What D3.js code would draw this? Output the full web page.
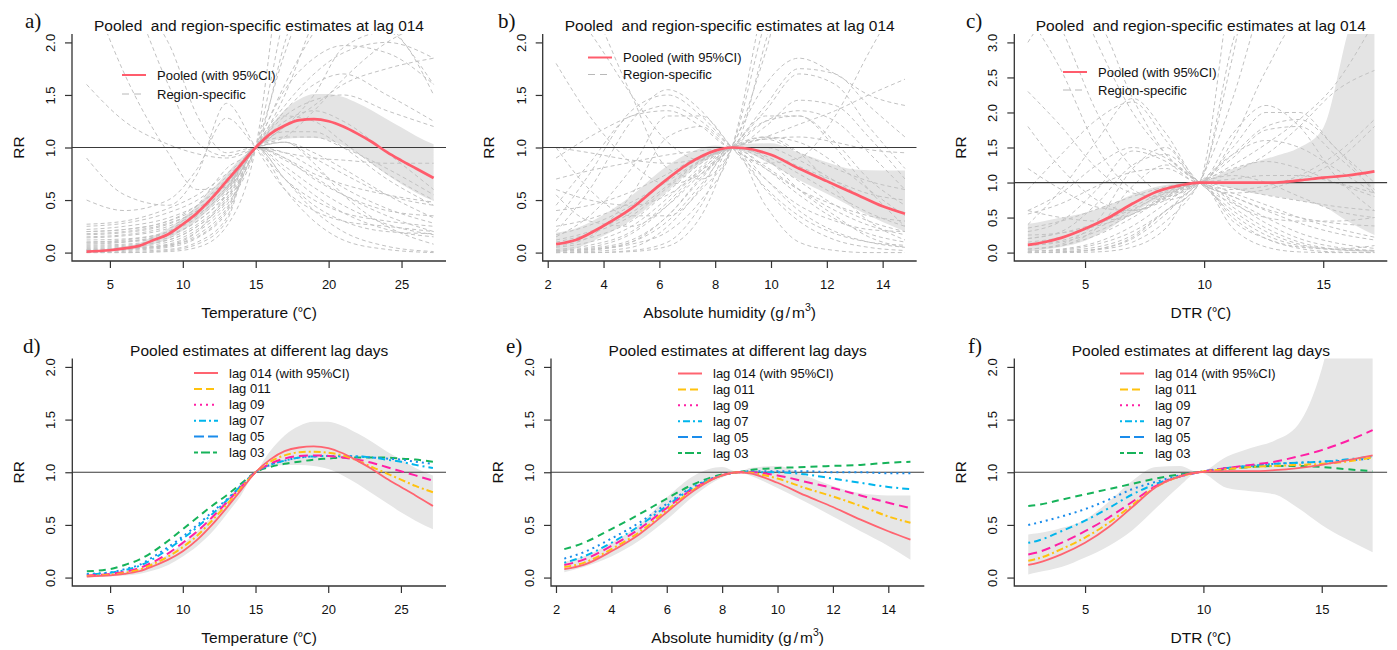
<!DOCTYPE html>
<html>
<head>
<meta charset="utf-8">
<script src="https://cdn.jsdelivr.net/npm/d3@7"></script>
<style>
  body { margin: 0; background: #fff; }
  svg text { font-family: "Liberation Sans", Arial, sans-serif; fill: #111; }
  .title { font-size: 15.5px; white-space: pre; }
  .axtitle { font-size: 15.5px; }
  .tick text { font-size: 13px; }
  .legend text { font-size: 13px; }
  .plabel { font-family: "Liberation Serif", "Times New Roman", serif !important; font-size: 21px; }
</style>
</head>
<body>
<svg id="fig" width="1397" height="650"></svg>
<script>
// ---------------- Temperature ----------------
const tempX = [3.4, 5, 6, 7, 8, 9, 10, 11, 12, 13, 14, 15, 16, 17, 18, 19, 20, 21, 22, 23, 24, 25, 26, 27.2];
const tempPooled = [0.01, 0.022, 0.04, 0.064, 0.12, 0.175, 0.27, 0.38, 0.52, 0.68, 0.84, 1.0, 1.13, 1.21, 1.26, 1.27, 1.25, 1.2, 1.13, 1.05, 0.955, 0.875, 0.8, 0.71];
const tempLow = [0.0, 0.01, 0.02, 0.04, 0.08, 0.13, 0.21, 0.31, 0.44, 0.6, 0.78, 1.0, 1.06, 1.08, 1.09, 1.09, 1.07, 1.02, 0.94, 0.84, 0.74, 0.65, 0.57, 0.49];
const tempHigh = [0.02, 0.04, 0.06, 0.09, 0.16, 0.23, 0.33, 0.45, 0.6, 0.75, 0.9, 1.0, 1.2, 1.36, 1.46, 1.51, 1.51, 1.48, 1.42, 1.35, 1.27, 1.19, 1.11, 1.03];
const tempRegionX = [3.4, 6, 9, 11, 13, 15, 17, 19, 21, 24, 27.2];
const tempRegions = [
  [0.27, 0.3, 0.42, 0.55, 0.75, 1, 1.35, 1.6, 1.7, 1.5, 1.25],
  [0.25, 0.28, 0.38, 0.5, 0.72, 1, 1.25, 1.35, 1.25, 0.95, 0.6],
  [0.22, 0.25, 0.33, 0.45, 0.68, 1, 1.15, 1.15, 1.0, 0.7, 0.45],
  [0.2, 0.22, 0.3, 0.42, 0.65, 1, 1.05, 0.95, 0.8, 0.55, 0.33],
  [0.17, 0.19, 0.27, 0.4, 0.62, 1, 0.95, 0.8, 0.62, 0.42, 0.28],
  [0.14, 0.16, 0.23, 0.36, 0.6, 1, 0.88, 0.72, 0.55, 0.35, 0.2],
  [0.12, 0.13, 0.2, 0.33, 0.58, 1, 0.82, 0.62, 0.45, 0.27, 0.17],
  [0.1, 0.11, 0.17, 0.3, 0.55, 1, 0.78, 0.55, 0.38, 0.22, 0.15],
  [0.07, 0.08, 0.14, 0.27, 0.52, 1, 1.1, 1.1, 1.0, 0.8, 0.55],
  [0.05, 0.06, 0.12, 0.25, 0.5, 1, 1.6, 2.1, 2.5, 2.6, 2.4],
  [0.04, 0.05, 0.1, 0.22, 0.48, 1, 1.9, 2.6, 3, 3, 3],
  [0.03, 0.04, 0.08, 0.2, 0.45, 1, 2.3, 3.5, 4, 4, 4],
  [0.02, 0.03, 0.06, 0.17, 0.42, 1, 1.55, 1.85, 1.97, 1.9, 1.6],
  [0.01, 0.02, 0.05, 0.14, 0.38, 1, 1.4, 1.7, 1.9, 2.0, 1.85],
  [0.0, 0.01, 0.03, 0.1, 0.33, 1, 0.7, 0.4, 0.2, 0.06, 0.01],
  [0.0, 0.0, 0.02, 0.08, 0.3, 1, 0.6, 0.3, 0.12, 0.03, 0.0],
  [1.6, 1.25, 1.03, 0.94, 0.9, 1, 1.2, 1.4, 1.6, 1.75, 1.85],
  [2.6, 1.7, 0.95, 0.6, 0.62, 1, 1.3, 1.45, 1.5, 1.35, 1.2],
  [0.9, 0.55, 0.45, 0.75, 1.42, 1, 0.6, 0.4, 0.3, 0.25, 0.2],
  [0.5, 0.4, 0.5, 0.8, 1.28, 1, 0.7, 0.5, 0.38, 0.3, 0.25],
  [3.2, 2.6, 1.6, 1.05, 0.92, 1, 1.05, 0.9, 0.75, 0.55, 0.45],
  [0.08, 0.1, 0.2, 0.45, 0.8, 1, 2.0, 2.8, 3, 3, 3],
  [0.02, 0.03, 0.07, 0.2, 0.55, 1, 1.3, 1.25, 1.05, 0.75, 0.5],
  [0.15, 0.17, 0.25, 0.38, 0.62, 1, 0.9, 0.75, 0.65, 0.55, 0.48],
  [0.06, 0.07, 0.12, 0.25, 0.5, 1, 1.1, 1.35, 1.65, 2.0, 2.2],
  [2.2, 2.4, 2.0, 1.3, 0.95, 1, 0.9, 0.7, 0.55, 0.4, 0.35],
  [0.0, 0.0, 0.01, 0.05, 0.25, 1, 3.0, 4, 4, 4, 4],
  [0.2, 0.22, 0.3, 0.45, 0.7, 1, 1.2, 1.5, 1.95, 2.1, 1.5],
  [0.1, 0.12, 0.2, 0.35, 0.6, 1, 0.95, 0.9, 0.88, 0.85, 0.85],
  [0.03, 0.04, 0.07, 0.15, 0.4, 1, 1.05, 0.85, 0.55, 0.25, 0.08],
  [0.18, 0.2, 0.28, 0.4, 0.66, 1, 1.5, 2.2, 2.6, 2.2, 1.6],
  [0.09, 0.1, 0.16, 0.3, 0.56, 1, 0.7, 0.45, 0.3, 0.2, 0.18]
];
const tempLagLow = [0.0, 0.01, 0.02, 0.035, 0.07, 0.12, 0.2, 0.3, 0.43, 0.6, 0.78, 1.0, 1.05, 1.07, 1.07, 1.06, 1.03, 0.97, 0.89, 0.8, 0.71, 0.62, 0.54, 0.46];
const tempLagHigh = [0.02, 0.035, 0.055, 0.085, 0.15, 0.22, 0.32, 0.44, 0.58, 0.74, 0.89, 1.0, 1.2, 1.35, 1.44, 1.48, 1.48, 1.44, 1.37, 1.29, 1.2, 1.12, 1.04, 0.97];
const tempLag014 = [0.01, 0.02, 0.035, 0.06, 0.11, 0.17, 0.25, 0.36, 0.5, 0.66, 0.83, 1.0, 1.12, 1.2, 1.235, 1.245, 1.23, 1.18, 1.11, 1.03, 0.94, 0.86, 0.78, 0.68];
const tempLag011 = [0.015, 0.028, 0.045, 0.075, 0.13, 0.2, 0.29, 0.4, 0.54, 0.69, 0.85, 1.0, 1.1, 1.16, 1.19, 1.195, 1.185, 1.16, 1.11, 1.05, 0.99, 0.93, 0.87, 0.81];
const tempLag09 = [0.02, 0.035, 0.055, 0.09, 0.15, 0.23, 0.33, 0.44, 0.57, 0.71, 0.86, 1.0, 1.08, 1.13, 1.155, 1.16, 1.155, 1.14, 1.12, 1.09, 1.05, 1.01, 0.97, 0.92];
const tempLag07 = [0.03, 0.045, 0.07, 0.11, 0.18, 0.27, 0.37, 0.48, 0.6, 0.73, 0.87, 1.0, 1.07, 1.11, 1.14, 1.15, 1.155, 1.15, 1.15, 1.14, 1.12, 1.1, 1.07, 1.04];
const tempLag05 = [0.035, 0.05, 0.08, 0.12, 0.2, 0.29, 0.39, 0.5, 0.62, 0.74, 0.87, 1.0, 1.07, 1.11, 1.14, 1.15, 1.155, 1.155, 1.15, 1.14, 1.13, 1.12, 1.1, 1.08];
const tempLag03 = [0.06, 0.08, 0.12, 0.17, 0.25, 0.35, 0.46, 0.57, 0.68, 0.78, 0.89, 1.0, 1.05, 1.08, 1.1, 1.12, 1.13, 1.14, 1.14, 1.14, 1.14, 1.13, 1.12, 1.1];

// ---------------- Absolute humidity ----------------
const humX = [2.3, 3, 4, 5, 6, 7, 8, 8.6, 9, 10, 11, 12, 13, 14, 14.8];
const humPooled = [0.08, 0.12, 0.255, 0.42, 0.64, 0.84, 0.97, 1.0, 0.995, 0.93, 0.8, 0.68, 0.56, 0.44, 0.37];
const humLow = [0.0, 0.04, 0.16, 0.31, 0.52, 0.75, 0.93, 1.0, 0.97, 0.84, 0.69, 0.56, 0.42, 0.29, 0.2];
const humHigh = [0.19, 0.23, 0.36, 0.54, 0.77, 0.94, 1.02, 1.0, 1.03, 1.04, 0.95, 0.86, 0.79, 0.78, 0.78];
const humRegionX = [2.3, 3.5, 5, 6.3, 7.5, 8.6, 9.8, 11, 12.3, 13.5, 14.8];
const humRegions = [
  [0.0, 0.02, 0.1, 0.35, 0.7, 1, 0.7, 0.4, 0.2, 0.1, 0.05],
  [0.02, 0.05, 0.18, 0.45, 0.78, 1, 0.8, 0.55, 0.32, 0.18, 0.1],
  [0.05, 0.1, 0.25, 0.52, 0.82, 1, 0.88, 0.68, 0.45, 0.3, 0.2],
  [0.08, 0.14, 0.3, 0.58, 0.85, 1, 0.92, 0.75, 0.55, 0.38, 0.25],
  [0.12, 0.2, 0.38, 0.64, 0.88, 1, 1.1, 1.05, 0.85, 0.6, 0.35],
  [0.17, 0.26, 0.45, 0.7, 0.9, 1, 1.25, 1.35, 1.25, 0.95, 0.6],
  [0.2, 0.6, 1.25, 1.55, 1.35, 1, 0.7, 0.45, 0.3, 0.22, 0.2],
  [0.3, 0.75, 1.35, 1.5, 1.3, 1, 0.8, 0.6, 0.45, 0.35, 0.3],
  [0.45, 0.85, 1.3, 1.35, 1.2, 1, 1.2, 1.45, 1.4, 1.1, 0.7],
  [1.8, 1.3, 0.85, 0.65, 0.75, 1, 1.35, 1.7, 1.6, 1.2, 0.8],
  [0.0, 0.0, 0.02, 0.1, 0.45, 1, 0.45, 0.1, 0.02, 0.0, 0.0],
  [0.02, 0.03, 0.08, 0.2, 0.5, 1, 2.5, 4, 4, 4, 4],
  [3, 2.4, 1.5, 0.8, 0.7, 1, 1.9, 3, 3, 3, 3],
  [0.7, 0.78, 0.86, 0.93, 0.97, 1, 1.1, 1.22, 1.35, 1.5, 1.65],
  [1.0, 0.95, 0.88, 0.85, 0.9, 1, 1.08, 1.1, 1.05, 0.98, 0.95],
  [0.6, 0.5, 0.45, 0.55, 0.78, 1, 1.4, 1.75, 1.7, 1.4, 1.1],
  [0.1, 0.18, 0.35, 0.62, 0.87, 1, 0.82, 0.6, 0.4, 0.26, 0.17],
  [0.0, 0.01, 0.05, 0.25, 0.62, 1, 0.6, 0.3, 0.12, 0.05, 0.02],
  [1.0, 0.6, 0.35, 0.35, 0.6, 1, 2.2, 3, 3, 3, 3],
  [0.15, 0.35, 0.8, 1.3, 1.3, 1, 0.62, 0.35, 0.18, 0.1, 0.07],
  [0.03, 0.07, 0.2, 0.48, 0.8, 1, 1.25, 1.3, 1.05, 0.7, 0.45],
  [2.5, 2.1, 1.5, 1.05, 0.88, 1, 1.08, 0.95, 0.8, 0.68, 0.6],
  [0.0, 0.0, 0.01, 0.06, 0.35, 1, 1.6, 1.85, 1.7, 1.5, 1.4],
  [0.25, 0.32, 0.48, 0.68, 0.88, 1, 1.0, 0.88, 0.68, 0.5, 0.38],
  [0.4, 0.45, 0.58, 0.75, 0.92, 1, 0.95, 0.82, 0.68, 0.56, 0.5],
  [0.02, 0.04, 0.12, 0.35, 0.72, 1, 0.9, 0.6, 0.35, 0.15, 0.05],
  [0.9, 1.1, 1.3, 1.4, 1.25, 1, 0.85, 0.9, 1.3, 1.9, 2.5],
  [0.55, 0.3, 0.25, 0.45, 0.75, 1, 1.3, 1.3, 1.0, 0.6, 0.25],
  [0.06, 0.15, 0.55, 1.1, 1.2, 1, 2.0, 3.2, 3, 3, 3],
  [0.01, 0.03, 0.1, 0.3, 0.65, 1, 1.1, 0.95, 0.6, 0.3, 0.12]
];
const humLagLow = [0.05, 0.1, 0.2, 0.35, 0.55, 0.78, 0.95, 1.0, 0.97, 0.85, 0.72, 0.58, 0.44, 0.3, 0.17];
const humLagHigh = [0.15, 0.2, 0.33, 0.5, 0.76, 0.97, 1.05, 1.0, 1.04, 1.06, 0.97, 0.87, 0.8, 0.78, 0.78];
const humLag014 = [0.08, 0.12, 0.25, 0.41, 0.62, 0.83, 0.97, 1.0, 0.99, 0.9, 0.78, 0.67, 0.55, 0.44, 0.36];
const humLag011 = [0.1, 0.14, 0.27, 0.43, 0.64, 0.84, 0.97, 1.0, 0.995, 0.94, 0.85, 0.77, 0.68, 0.58, 0.52];
const humLag09 = [0.12, 0.17, 0.3, 0.46, 0.66, 0.85, 0.97, 1.0, 1.0, 0.97, 0.91, 0.85, 0.78, 0.71, 0.66];
const humLag07 = [0.14, 0.2, 0.33, 0.49, 0.68, 0.86, 0.97, 1.0, 1.0, 1.0, 0.98, 0.94, 0.9, 0.86, 0.84];
const humLag05 = [0.18, 0.24, 0.37, 0.52, 0.7, 0.87, 0.97, 1.0, 1.01, 1.01, 1.01, 1.0, 1.0, 0.99, 0.99];
const humLag03 = [0.27, 0.33, 0.46, 0.6, 0.75, 0.89, 0.98, 1.0, 1.02, 1.04, 1.05, 1.06, 1.07, 1.09, 1.1];

// ---------------- Diurnal temperature range ----------------
const dtrX = [2.6, 3, 4, 5, 6, 7, 8, 9, 9.8, 11, 12, 13, 14, 15, 16, 17.15];
const dtrPooled = [0.11, 0.13, 0.21, 0.34, 0.5, 0.7, 0.87, 0.96, 1.0, 1.0, 1.0, 1.0, 1.03, 1.07, 1.1, 1.16];
const dtrLow = [0.02, 0.03, 0.08, 0.17, 0.34, 0.56, 0.76, 0.92, 1.0, 0.93, 0.85, 0.8, 0.74, 0.66, 0.45, 0.25];
const dtrHigh = [0.41, 0.43, 0.5, 0.57, 0.68, 0.83, 0.94, 0.99, 1.0, 1.17, 1.28, 1.38, 1.5, 1.78, 3.1, 4.5];
const dtrRegionX = [2.6, 4, 5.5, 7, 8.4, 9.8, 11.2, 12.6, 14, 15.5, 17.15];
const dtrRegions = [
  [0.0, 0.01, 0.05, 0.2, 0.55, 1, 0.5, 0.2, 0.06, 0.01, 0.0],
  [0.02, 0.05, 0.15, 0.38, 0.7, 1, 0.65, 0.35, 0.15, 0.05, 0.02],
  [0.05, 0.1, 0.25, 0.5, 0.8, 1, 0.75, 0.5, 0.28, 0.14, 0.06],
  [0.1, 0.17, 0.35, 0.6, 0.86, 1, 0.85, 0.68, 0.5, 0.35, 0.22],
  [0.2, 0.3, 0.7, 1.25, 1.4, 1, 0.8, 0.6, 0.42, 0.28, 0.18],
  [0.3, 0.45, 0.9, 1.45, 1.3, 1, 1.7, 2.1, 1.8, 1.1, 0.6],
  [0.55, 0.7, 0.95, 1.15, 1.2, 1, 1.5, 2.0, 2.0, 1.5, 1.0],
  [2.3, 1.8, 1.2, 0.85, 0.8, 1, 1.4, 1.8, 1.9, 1.5, 0.85],
  [1.8, 1.2, 0.75, 0.6, 0.75, 1, 1.15, 1.4, 1.8, 2.3, 2.6],
  [0.9, 1.4, 1.9, 2.15, 1.6, 1, 0.7, 0.5, 0.45, 0.45, 0.5],
  [0.6, 0.85, 1.25, 1.5, 1.35, 1, 0.9, 0.95, 1.1, 1.4, 1.9],
  [0.02, 0.04, 0.12, 0.3, 0.6, 1, 2.8, 5, 5, 5, 5],
  [0.0, 0.01, 0.04, 0.15, 0.45, 1, 2.2, 3.8, 5, 5, 5],
  [4, 3.2, 2.0, 1.2, 0.85, 1, 1.1, 1.0, 0.8, 0.6, 0.5],
  [0.0, 0.0, 0.01, 0.08, 0.35, 1, 0.35, 0.08, 0.01, 0.0, 0.0],
  [0.2, 0.28, 0.42, 0.62, 0.85, 1, 1.25, 1.55, 1.9, 2.4, 3.3],
  [0.25, 0.28, 0.38, 0.55, 0.8, 1, 0.92, 0.82, 0.74, 0.66, 0.6],
  [0.35, 0.45, 0.62, 0.8, 0.94, 1, 1.05, 1.1, 1.1, 1.0, 0.85],
  [5, 4.2, 3.0, 2.0, 1.4, 1, 0.6, 0.3, 0.12, 0.04, 0.02],
  [0.05, 0.1, 0.35, 0.95, 1.25, 1, 0.55, 0.25, 0.1, 0.05, 0.03],
  [0.15, 0.22, 0.4, 0.65, 0.88, 1, 1.35, 1.75, 1.8, 1.4, 0.9],
  [0.0, 0.01, 0.05, 0.22, 0.6, 1, 4, 6, 6, 6, 6],
  [0.1, 0.15, 0.3, 0.55, 0.82, 1, 0.72, 0.42, 0.2, 0.08, 0.03],
  [3, 3.5, 3.3, 2.2, 1.4, 1, 0.8, 0.62, 0.5, 0.42, 0.38],
  [0.6, 0.5, 0.45, 0.55, 0.78, 1, 1.2, 1.3, 1.2, 1.0, 0.8],
  [1.2, 0.9, 0.65, 0.6, 0.78, 1, 0.45, 0.2, 0.08, 0.05, 0.1],
  [0.02, 0.03, 0.08, 0.25, 0.6, 1, 1.4, 1.6, 1.5, 1.2, 0.85],
  [0.4, 0.9, 1.6, 2.2, 1.7, 1, 0.85, 0.9, 1.05, 1.3, 1.8],
  [3.4, 2.6, 1.5, 0.9, 0.75, 1, 3.0, 4.5, 4, 4, 4],
  [0.05, 0.12, 0.45, 1.2, 1.5, 1, 1.6, 2.6, 3.3, 3.3, 3.3]
];
const dtrLagLow = [0.03, 0.05, 0.1, 0.19, 0.3, 0.45, 0.66, 0.87, 1.0, 0.85, 0.82, 0.79, 0.66, 0.5, 0.37, 0.24];
const dtrLagHigh = [0.41, 0.42, 0.47, 0.55, 0.72, 0.92, 1.05, 1.06, 1.0, 1.15, 1.23, 1.3, 1.45, 1.98, 3.0, 4.0];
const dtrLag014 = [0.12, 0.14, 0.22, 0.33, 0.48, 0.67, 0.86, 0.96, 1.0, 1.01, 1.01, 1.02, 1.04, 1.07, 1.11, 1.16];
const dtrLag011 = [0.16, 0.18, 0.27, 0.38, 0.52, 0.69, 0.86, 0.96, 1.0, 1.03, 1.05, 1.06, 1.07, 1.08, 1.1, 1.14];
const dtrLag09 = [0.22, 0.24, 0.33, 0.44, 0.57, 0.72, 0.87, 0.96, 1.0, 1.04, 1.07, 1.1, 1.15, 1.21, 1.29, 1.4];
const dtrLag07 = [0.33, 0.35, 0.44, 0.54, 0.66, 0.79, 0.89, 0.96, 1.0, 1.04, 1.06, 1.08, 1.09, 1.1, 1.12, 1.15];
const dtrLag05 = [0.5, 0.52, 0.58, 0.65, 0.74, 0.84, 0.91, 0.97, 1.0, 1.04, 1.06, 1.08, 1.09, 1.1, 1.11, 1.13];
const dtrLag03 = [0.68, 0.69, 0.74, 0.79, 0.84, 0.89, 0.94, 0.98, 1.0, 1.03, 1.05, 1.06, 1.06, 1.05, 1.03, 1.01];

// ---------------- Axis ticks and labels ----------------
const tempTicks = [5, 10, 15, 20, 25];
const humTicks = [2, 4, 6, 8, 10, 12, 14];
const dtrTicks = [5, 10, 15];
const rrTicks2 = [0, 0.5, 1, 1.5, 2];
const rrTicks3 = [0, 0.5, 1, 1.5, 2, 2.5, 3];
const lagNames = ["lag 014 (with 95%CI)", "lag 011", "lag 09", "lag 07", "lag 05", "lag 03"];
const lagColors = ["#ff6470", "#ffc20e", "#ff1fa5", "#00b5ec", "#1a8ceb", "#16b35a"];
const topTitle = "Pooled  and region-specific estimates at lag 014";
const bottomTitle = "Pooled estimates at different lag days";

// line styles: [dash in the plot, dash in the legend]
const lagPlotDash = [null, "7,3,2,3", "9,5", "2,4,7,4", "2,4", "7,5"];
const lagLegendDash = [null, "8,4", "2,4", "2,3,7,3", "10,4", "4,3,9,3"];

const svg = d3.select("#fig");

function rr(yv) { return d3.format(".1f")(yv); }

function frame(p) {
  const x = d3.scaleLinear().domain(p.xDomain).range([p.left, p.right]);
  const y = d3.scaleLinear().domain(p.yDomain).range([p.bottom, p.top]);
  const cid = "clip-" + p.id;
  svg.append("clipPath").attr("id", cid).append("rect")
    .attr("x", p.left).attr("y", p.top)
    .attr("width", p.right - p.left).attr("height", p.bottom - p.top);
  const plot = svg.append("g").attr("clip-path", `url(#${cid})`);
  return { x, y, plot };
}

function axes(p, x, y) {
  const gx = svg.append("g").attr("transform", `translate(0,${p.bottom})`)
    .call(d3.axisBottom(x).tickValues(p.xTicks).tickSize(7).tickFormat(d3.format("d")));
  gx.select(".domain").remove();
  gx.selectAll(".tick line").attr("stroke", "#333").attr("stroke-width", 1.2);
  gx.selectAll(".tick text").attr("y", 28).attr("dy", 0).attr("fill", "#111");

  const gy = svg.append("g").attr("transform", `translate(${p.left},0)`)
    .call(d3.axisLeft(y).tickValues(p.yTicks).tickSize(7).tickFormat(rr));
  gy.select(".domain").remove();
  gy.selectAll(".tick line").attr("stroke", "#333").attr("stroke-width", 1.2);
  gy.selectAll(".tick text")
    .attr("transform", "rotate(-90)")
    .attr("x", 0).attr("y", -17).attr("dy", 0)
    .attr("text-anchor", "middle").attr("fill", "#111");

  // L-shaped frame
  svg.append("path")
    .attr("d", `M${p.left},${p.top}V${p.bottom}H${p.right}`)
    .attr("fill", "none").attr("stroke", "#333").attr("stroke-width", 1.3);

  // panel title, axis titles and letter
  svg.append("text").attr("class", "title")
    .attr("x", (p.left + p.right) / 2).attr("y", p.top - 3)
    .attr("text-anchor", "middle").text(p.title);
  const xt = svg.append("text").attr("class", "axtitle")
    .attr("x", (p.left + p.right) / 2).attr("y", p.bottom + 57)
    .attr("text-anchor", "middle");
  if (p.xLabel === "hum") {
    xt.append("tspan").text("Absolute humidity (g");
    xt.append("tspan").attr("dx", 2).text("/");
    xt.append("tspan").attr("dx", 2).text("m");
    xt.append("tspan").attr("dy", -7).attr("font-size", "10.5px").text("3");
    xt.append("tspan").attr("dy", 7).text(")");
  } else {
    xt.append("tspan").text(p.xLabel + " (");
    xt.append("tspan").attr("font-family", "'Noto Sans CJK SC'").attr("font-size", "14px").text("\u2103");
    xt.append("tspan").text(")");
  }
  svg.append("text").attr("class", "axtitle")
    .attr("transform", `translate(${p.left - 48.5},${(p.top + p.bottom) / 2}) rotate(-90)`)
    .attr("text-anchor", "middle").text("RR");
  svg.append("text").attr("class", "plabel")
    .attr("x", p.letterX).attr("y", p.top + p.letterDy).text(p.letter);
}

function zip(xs, ys) { return xs.map((v, i) => ({ x: v, y: ys[i] })); }

function topPanel(p, xs, pooled, lo, hi, regX, regions) {
  const { x, y, plot } = frame(p);
  const area = d3.area().x(d => x(d.x)).y0(d => y(d.lo)).y1(d => y(d.hi)).curve(d3.curveMonotoneX);
  plot.append("path").datum(xs.map((v, i) => ({ x: v, lo: lo[i], hi: hi[i] })))
    .attr("d", area).attr("fill", "#e4e4e4");
  const line = d3.line().x(d => x(d.x)).y(d => y(d.y)).curve(d3.curveMonotoneX);
  plot.selectAll("path.region").data(regions).join("path").attr("class", "region")
    .attr("d", r => line(zip(regX, r)))
    .attr("fill", "none").attr("stroke", "#c2c2c2").attr("stroke-width", 1)
    .attr("stroke-dasharray", "4,3");
  plot.append("line").attr("x1", p.left).attr("x2", p.right)
    .attr("y1", y(1)).attr("y2", y(1)).attr("stroke", "#3a3a3a").attr("stroke-width", 1.2);
  plot.append("path").datum(zip(xs, pooled)).attr("d", line)
    .attr("fill", "none").attr("stroke", "#ff5c6c").attr("stroke-width", 2.7);
  axes(p, x, y);

  const lg = svg.append("g").attr("class", "legend");
  lg.append("line").attr("x1", p.legX).attr("x2", p.legX + 24)
    .attr("y1", p.legY).attr("y2", p.legY).attr("stroke", "#ff5c6c").attr("stroke-width", 2);
  lg.append("line").attr("x1", p.legX).attr("x2", p.legX + 24)
    .attr("y1", p.legY + p.legGap).attr("y2", p.legY + p.legGap)
    .attr("stroke", "#b8b8b8").attr("stroke-width", 1).attr("stroke-dasharray", "7,5");
  lg.append("text").attr("x", p.legX + 35).attr("y", p.legY + 4.5).text("Pooled (with 95%CI)");
  lg.append("text").attr("x", p.legX + 35).attr("y", p.legY + p.legGap + 4.5).text("Region-specific");
}

function bottomPanel(p, xs, lo, hi, lags) {
  const { x, y, plot } = frame(p);
  const area = d3.area().x(d => x(d.x)).y0(d => y(d.lo)).y1(d => y(d.hi)).curve(d3.curveMonotoneX);
  plot.append("path").datum(xs.map((v, i) => ({ x: v, lo: lo[i], hi: hi[i] })))
    .attr("d", area).attr("fill", "#e6e6e6");
  plot.append("line").attr("x1", p.left).attr("x2", p.right)
    .attr("y1", y(1)).attr("y2", y(1)).attr("stroke", "#3a3a3a").attr("stroke-width", 1.2);
  const line = d3.line().x(d => x(d.x)).y(d => y(d.y)).curve(d3.curveMonotoneX);
  for (let k = lags.length - 1; k >= 0; k--) {
    plot.append("path").datum(zip(xs, lags[k])).attr("d", line)
      .attr("fill", "none").attr("stroke", lagColors[k])
      .attr("stroke-width", k === 0 ? 1.8 : 2)
      .attr("stroke-dasharray", lagPlotDash[k]);
  }
  axes(p, x, y);

  const lg = svg.append("g").attr("class", "legend");
  lagNames.forEach((name, k) => {
    const yy = p.legY + k * 15.9;
    lg.append("line").attr("x1", p.legX).attr("x2", p.legX + 24)
      .attr("y1", yy).attr("y2", yy).attr("stroke", lagColors[k])
      .attr("stroke-width", 2).attr("stroke-dasharray", lagLegendDash[k]);
    lg.append("text").attr("x", p.legX + 35).attr("y", yy + 4.5).text(name);
  });
}

// ---------------- Panel layout ----------------
const topRow = { top: 34, bottom: 261, letterDy: -6 };
const botRow = { top: 358.5, bottom: 586, letterDy: -6 };

topPanel({ id: "a", ...topRow, left: 72, right: 446, xDomain: [2.4, 28.05], yDomain: [-0.08, 2.08],
  xTicks: tempTicks, yTicks: rrTicks2, title: topTitle, xLabel: "Temperature", letter: "a)", letterX: 25,
  legX: 122, legY: 75, legGap: 19 }, tempX, tempPooled, tempLow, tempHigh, tempRegionX, tempRegions);

topPanel({ id: "b", ...topRow, left: 542.7, right: 916.7, xDomain: [1.82, 15.22], yDomain: [-0.08, 2.08],
  xTicks: humTicks, yTicks: rrTicks2, title: topTitle, xLabel: "hum", letter: "b)", letterX: 498,
  legX: 588, legY: 57.5, legGap: 17 }, humX, humPooled, humLow, humHigh, humRegionX, humRegions);

topPanel({ id: "c", ...topRow, left: 1014.3, right: 1387.3, xDomain: [2.03, 17.69], yDomain: [-0.12, 3.12],
  xTicks: dtrTicks, yTicks: rrTicks3, title: topTitle, xLabel: "DTR", letter: "c)", letterX: 966,
  legX: 1063, legY: 72, legGap: 18 }, dtrX, dtrPooled, dtrLow, dtrHigh, dtrRegionX, dtrRegions);

bottomPanel({ id: "d", ...botRow, left: 72.3, right: 446, xDomain: [2.4, 28.1], yDomain: [-0.08, 2.08],
  xTicks: tempTicks, yTicks: rrTicks2, title: bottomTitle, xLabel: "Temperature", letter: "d)", letterX: 23,
  legX: 194, legY: 373 }, tempX, tempLagLow, tempLagHigh,
  [tempLag014, tempLag011, tempLag09, tempLag07, tempLag05, tempLag03]);

bottomPanel({ id: "e", ...botRow, left: 551, right: 924.3, xDomain: [1.82, 15.3], yDomain: [-0.08, 2.08],
  xTicks: humTicks, yTicks: rrTicks2, title: bottomTitle, xLabel: "hum", letter: "e)", letterX: 506,
  legX: 678, legY: 373.5 }, humX, humLagLow, humLagHigh,
  [humLag014, humLag011, humLag09, humLag07, humLag05, humLag03]);

bottomPanel({ id: "f", ...botRow, left: 1014.3, right: 1387.3, xDomain: [2.01, 17.77], yDomain: [-0.08, 2.08],
  xTicks: dtrTicks, yTicks: rrTicks2, title: bottomTitle, xLabel: "DTR", letter: "f)", letterX: 968,
  legX: 1120, legY: 373.5 }, dtrX, dtrLagLow, dtrLagHigh,
  [dtrLag014, dtrLag011, dtrLag09, dtrLag07, dtrLag05, dtrLag03]);
</script>
</body>
</html>
